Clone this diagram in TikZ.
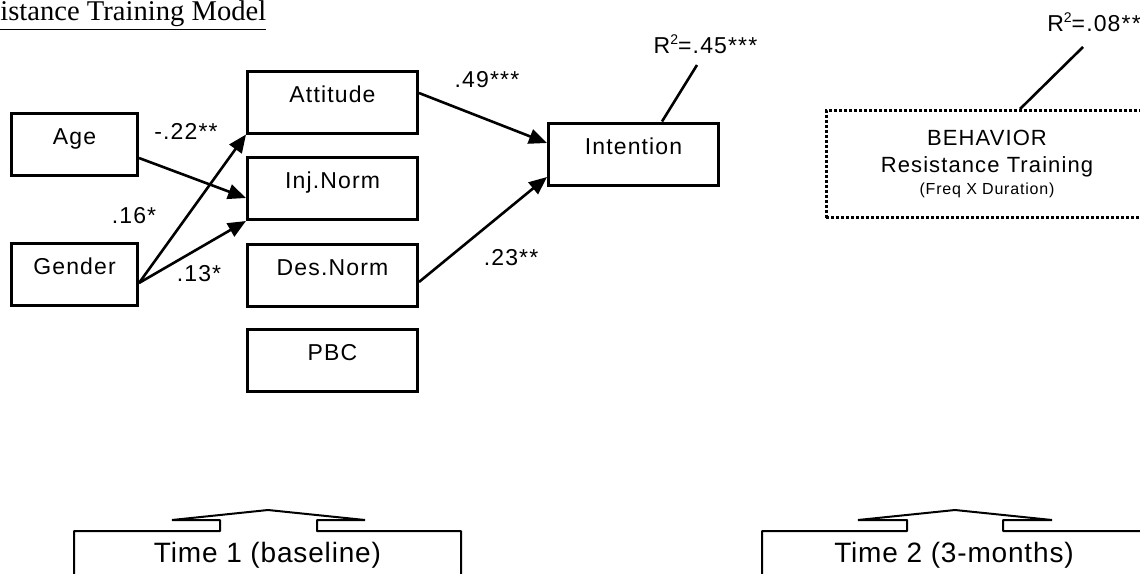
\documentclass[tikz,border=0pt]{standalone}
\usepackage{fontspec}
\usepackage{tikz}
\usetikzlibrary{arrows.meta}

\newfontfamily\boxfont[LetterSpace=5]{Liberation Sans}
\newfontfamily\timefont[LetterSpace=3]{Liberation Sans}
\newfontfamily\titlefont{Liberation Serif}

\tikzset{
  varbox/.style={draw, line width=1.5pt, minimum height=31pt, inner sep=0pt,
    text height=8pt, text depth=7.6pt, font=\boxfont\fontsize{11.5}{13.5}\selectfont},
  effect/.style={line width=1.3pt, -{Triangle[length=9pt,width=7.5pt]}},
  coef/.style={inner sep=0pt, font=\boxfont\fontsize{11.5}{13.5}\selectfont},
  frame/.style={line width=1pt, line join=bevel}
}

\begin{document}
\begin{tikzpicture}[x=0.5pt, y=-0.5pt]
  \useasboundingbox (0,0) rectangle (1140,573);
  % Title
  \node[anchor=base west, inner sep=0pt, font=\titlefont\fontsize{14.3}{16}\selectfont] (title) at (0,20.5) {\underline{istance Training Model}};
  % Time 1 variables
  \node[varbox, minimum width=63pt] (age) at (74.5,144.5) {Age};
  \node[varbox, minimum width=63pt] (gender) at (74.5,274) {Gender};
  \node[varbox, minimum width=85pt] (attitude) at (332.5,102) {Attitude};
  \node[varbox, minimum width=85pt] (injnorm) at (332.5,188.5) {Inj.Norm};
  \node[varbox, minimum width=85pt] (desnorm) at (332.5,275) {Des.Norm};
  \node[varbox, minimum width=85pt] (pbc) at (332.5,360) {PBC};
  \node[varbox, minimum width=85pt] (intention) at (633.5,154) {Intention};
  % Time 2 behavior
  \node[draw, line width=1.5pt, dash pattern=on 1.5pt off 1pt, minimum width=161pt, minimum height=53.5pt,
    align=center, font=\boxfont\fontsize{11}{13.5}\selectfont] (behavior) at (987,164)
    {BEHAVIOR\\Resistance Training\\[-2.5pt]{\fontsize{8}{10}\selectfont (Freq X Duration)}};
  % Paths
  \draw[effect] ([yshift=-6.75pt]age.east) -- ([yshift=-4.75pt]injnorm.west);
  \draw[effect] ([yshift=-4.5pt]gender.east) -- (attitude.south west);
  \draw[effect] ([yshift=-4.5pt]gender.east) -- (injnorm.south west);
  \draw[effect] ([yshift=4.5pt]attitude.east) -- ([yshift=5.5pt]intention.west);
  \draw[effect] ([yshift=-3.5pt]desnorm.east) -- ([yshift=-11.5pt]intention.west);
  % Path coefficients
  \foreach \n/\x/\y/\t in {a/186/131/-.22**, b/134/216/.16*, c/199/274/.13*, d/487/80/.49***, e/511/258/.23**}
    \node[coef] (coef\n) at (\x,\y) {\t};
  % Explained variance
  \coordinate (intvar) at (697,65);
  \coordinate (behvar) at (1083,47);
  \draw[line width=1.3pt] ([xshift=14.25pt]intention.north) -- (intvar);
  \draw[line width=1.3pt] ([xshift=16.5pt]behavior.north) -- (behvar);
  \node[coef, anchor=base] (r2int) at (705.5,53) {R{\fontsize{7}{8}\selectfont\raisebox{4.5pt}{2}}=.45***};
  \node[coef, anchor=base] (r2beh) at (1094,32) {R{\fontsize{7}{8}\selectfont\raisebox{4.5pt}{2}}=.08**};
  % Time frames
  \draw[frame] (74,580) -- (74,531) -- (220,531) -- (220,520) -- (172,520) -- (268,510) -- (365,520)
    -- (317,520) -- (317,531) -- (461,531) -- (461,580);
  \draw[frame] (762,580) -- (762,531) -- (907,531) -- (907,520) -- (858,520) -- (955,510) -- (1052,520)
    -- (1003,520) -- (1003,531) -- (1148,531) -- (1148,580);
  \node[anchor=base, inner sep=0pt, font=\timefont\fontsize{14}{16}\selectfont] (time1) at (267.5,562) {Time 1 (baseline)};
  \node[anchor=base, inner sep=0pt, font=\timefont\fontsize{14}{16}\selectfont] (time2) at (954,562) {Time 2 (3-months)};
\end{tikzpicture}
\end{document}
